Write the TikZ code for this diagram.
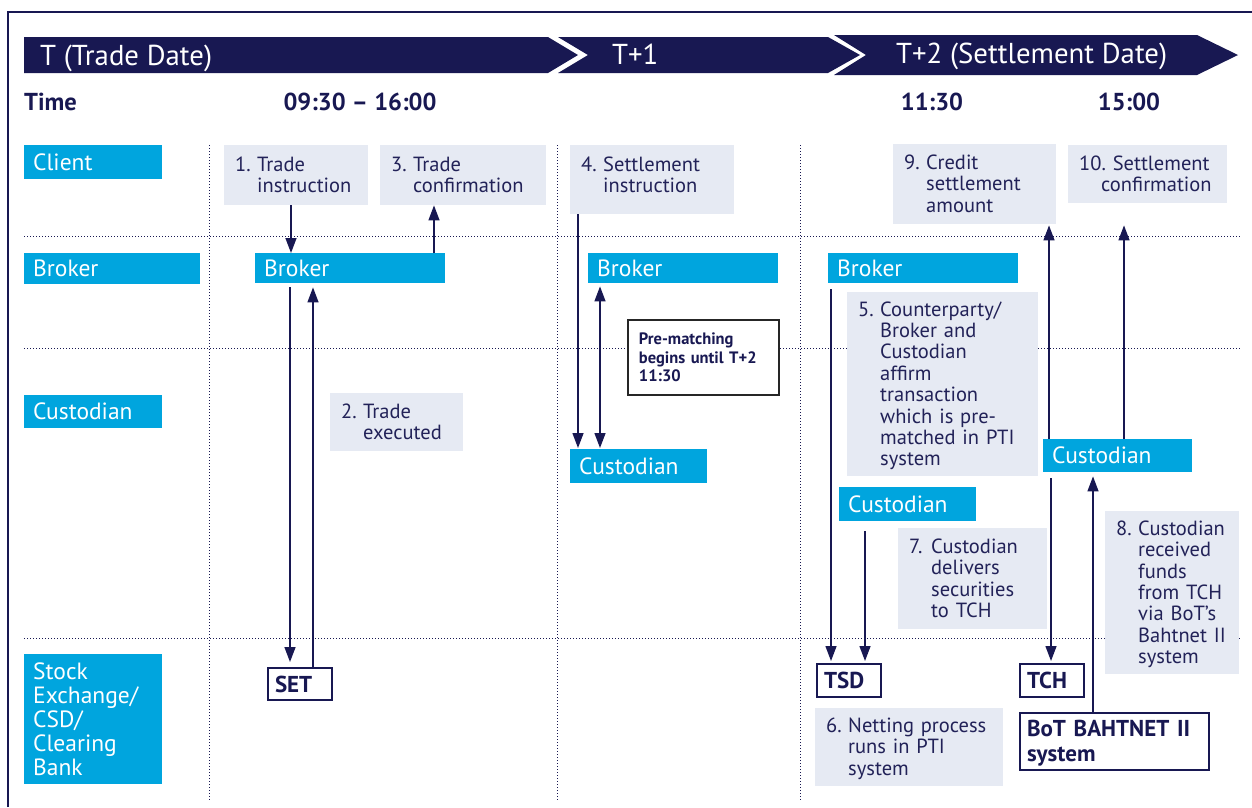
\documentclass[tikz,border=0pt]{standalone}
\usepackage{fontspec}
\setmainfont{PT Sans}
\usetikzlibrary{arrows.meta}
\definecolor{navy}{RGB}{24,24,82}
\definecolor{cyanbox}{RGB}{0,165,222}
\definecolor{stepfill}{RGB}{230,234,243}
\definecolor{txtc}{RGB}{34,34,88}
\newlength{\stind}
\setlength{\stind}{22pt}
\newcommand{\stp}[3][-2.5pt]{\raisebox{#1}[\height][\depth]{\makebox[\stind][l]{#2}\begin{tabular}[t]{@{}l@{}}#3\end{tabular}}}
\tikzset{
  lbl/.style={fill=cyanbox, text=white, anchor=north west, inner xsep=9pt, inner ysep=0pt, align=left, font=\fontsize{23.5}{23.8}\selectfont},
  stepbox/.style={fill=stepfill, text=txtc, anchor=north west, inner xsep=11pt, inner ysep=0pt, align=left, font=\fontsize{20.5}{21.4}\selectfont},
  wbox/.style={fill=white, draw=navy, line width=2pt, text=navy, anchor=north west, inner xsep=7pt, inner ysep=0pt, align=left, font=\fontsize{23}{25}\selectfont\bfseries},
  prebox/.style={fill=white, draw=black!85, line width=1.8pt, text=navy, anchor=north west, inner xsep=11pt, inner ysep=0pt, align=left, font=\fontsize{16.5}{18.5}\selectfont\bfseries},
  bann/.style={text=white, inner sep=0pt, font=\fontsize{28.8}{30}\selectfont},
  hdr/.style={text=navy, inner sep=0pt, font=\fontsize{24.5}{26}\selectfont\bfseries},
  gridline/.style={draw=navy, line width=0.9pt, dash pattern=on 0.9pt off 2.1pt},
  frameline/.style={draw=navy, line width=1.4pt},
  arr/.style={draw=navy, line width=1.4pt, -{Triangle[length=15pt,width=11pt]}},
  arrboth/.style={draw=navy, line width=1.4pt, {Triangle[length=15pt,width=11pt]}-{Triangle[length=15pt,width=11pt]}},
}
\begin{document}
\begin{tikzpicture}[x=1pt,y=-1pt]
\useasboundingbox (0,0) rectangle (1252,807);
% frame
\draw[frameline] (8,807) -- (8,12) -- (1252,12);
% grid
\foreach \yy in {236,348,638} \draw[gridline] (24,\yy) -- (1240,\yy);
\foreach \xx in {209,557,800} \draw[gridline] (\xx,145) -- (\xx,801);
% banner
\fill[navy] (24,37) -- (548,37) -- (578,55) -- (548,73) -- (24,73) -- cycle;
\fill[navy] (558,37) -- (828,37) -- (860,55) -- (828,73) -- (558,73) -- (588,55) -- cycle;
\fill[navy] (834,35) -- (1197,35) -- (1238,55) -- (1197,75) -- (834,75) -- (866,55) -- cycle;
\node[bann, anchor=base west] (tT) at (40,65) {T (Trade Date)};
\node[bann, anchor=base west] (tT1) at (612,64) {T+1};
\node[bann, anchor=base west] (tT2) at (896,63) {T+2 (Settlement Date)};
% headers
\node[hdr, anchor=base west] (hTime) at (24,110) {Time};
\node[hdr, anchor=base] (hA) at (360,110) {09:30 -- 16:00};
\node[hdr, anchor=base] (hB) at (932,110) {11:30};
\node[hdr, anchor=base] (hC) at (1129,110) {15:00};
% row labels
\node[lbl, minimum width=138pt, minimum height=34pt, text width=120pt] (lClient) at (24,145) {Client};
\node[lbl, minimum width=176pt, minimum height=31pt, text width=158pt] (lBroker) at (24,253) {Broker};
\node[lbl, minimum width=138pt, minimum height=33pt, text width=120pt] (lCust) at (24,395) {Custodian};
\node[lbl, minimum width=138pt, minimum height=130pt, text width=120pt] (lSE) at (24,654) {Stock\\Exchange/\\CSD/\\Clearing\\Bank};
% entity boxes
\node[lbl, minimum width=190pt, minimum height=30pt, text width=172pt] (brT) at (255,253) {Broker};
\node[lbl, minimum width=190pt, minimum height=30pt, text width=172pt] (brT1) at (588,253) {Broker};
\node[lbl, minimum width=190pt, minimum height=30pt, text width=172pt] (brT2) at (828,253) {Broker};
\node[lbl, minimum width=137pt, minimum height=34pt, text width=119pt] (cuT1) at (570,449) {Custodian};
\node[lbl, minimum width=137pt, minimum height=34pt, text width=119pt] (cuT2) at (839,487) {Custodian};
\node[lbl, minimum width=149pt, minimum height=33pt, text width=131pt] (cuR) at (1043,439) {Custodian};
% step boxes
\node[stepbox, minimum width=144pt, minimum height=60pt, text width=122pt] (s1) at (224,145) {\stp{1.}{Trade\\instruction}};
\node[stepbox, minimum width=166pt, minimum height=60pt, text width=144pt] (s3) at (380,145) {\stp{3.}{Trade\\confirmation}};
\node[stepbox, minimum width=164pt, minimum height=69pt, text width=142pt] (s4) at (570,145) {\stp[2pt]{4.}{Settlement\\instruction}};
\node[stepbox, minimum width=163pt, minimum height=80pt, text width=141pt] (s9) at (893,144) {\stp{9.}{Credit\\settlement\\amount}};
\node[stepbox, minimum width=159pt, minimum height=58pt, text width=137pt] (s10) at (1068,145) {\raisebox{-2.5pt}[\height][\depth]{\begin{tabular}[t]{@{}l@{}}10.\ Settlement\\\hspace*{\stind}confirmation\end{tabular}}};
\node[stepbox, minimum width=133pt, minimum height=58pt, text width=111pt] (s2) at (330,393) {\stp{2.}{Trade\\executed}};
\node[stepbox, minimum width=191pt, minimum height=184pt, text width=169pt] (s5) at (847,292) {\stp{5.}{Counterparty/\\Broker and\\Custodian\\affirm\\transaction\\which is pre-\\matched in PTI\\system}};
\node[stepbox, minimum width=149pt, minimum height=101pt, text width=127pt] (s7) at (898,528) {\stp{7.}{Custodian\\delivers\\securities\\to TCH}};
\node[stepbox, minimum width=134pt, minimum height=163pt, text width=112pt] (s8) at (1105,511) {\stp{8.}{Custodian\\received\\funds\\from TCH\\via BoT’s\\Bahtnet II\\system}};
\node[stepbox, minimum width=188pt, minimum height=78pt, text width=166pt] (s6) at (815,708) {\stp{6.}{Netting process\\runs in PTI\\system}};
% white boxes
\node[wbox, minimum width=64pt, minimum height=32pt, text width=50pt] (set) at (267,667) {SET};
\node[wbox, minimum width=64pt, minimum height=33pt, text width=50pt] (tsd) at (816,663) {TSD};
\node[wbox, minimum width=64pt, minimum height=33pt, text width=50pt] (tch) at (1019,663) {TCH};
\node[wbox, minimum width=189pt, minimum height=57pt, text width=175pt] (bot) at (1019,712) {\raisebox{-2pt}[\height][\depth]{\begin{tabular}[t]{@{}l@{}}BoT BAHTNET II\\system\end{tabular}}};
\node[prebox, minimum width=151pt, minimum height=75pt, text width=129pt] (pre) at (627,319) {Pre-matching\\begins until T+2\\11:30};
% arrow x positions
\coordinate (xa) at (291,0);
\coordinate (xb) at (434,0);
\coordinate (xc) at (290,0);
\coordinate (xd) at (313,0);
\coordinate (xe) at (578,0);
\coordinate (xf) at (600,0);
\coordinate (xg) at (831,0);
\coordinate (xh) at (865,0);
\coordinate (xi) at (1051,0);
\coordinate (xj) at (1049,0);
\coordinate (xk) at (1124,0);
\coordinate (xl) at (1093,0);
% arrows
\draw[arr] (s1.south -| xa) -- (brT.north -| xa);
\draw[arr] (brT.north -| xb) -- (s3.south -| xb);
\draw[arr, shorten <=4pt, shorten >=5pt] (brT.south -| xc) -- (set.north -| xc);
\draw[arr, shorten >=4pt] (set.north -| xd) -- (brT.south -| xd);
\draw[arr, shorten >=1pt] (s4.south -| xe) -- (cuT1.north -| xe);
\draw[arrboth, shorten <=3pt, shorten >=1pt] (brT1.south -| xf) -- (cuT1.north -| xf);
\draw[arr, shorten <=6pt, shorten >=2pt] (brT2.south -| xg) -- (tsd.north -| xg);
\draw[arr, shorten <=10pt, shorten >=2pt] (cuT2.south -| xh) -- (tsd.north -| xh);
\draw[arr, shorten <=6pt, shorten >=2pt] (cuR.south -| xi) -- (tch.north -| xi);
\draw[arr, shorten >=1pt] (cuR.north -| xj) -- (s9.south -| xj);
\draw[arr, shorten >=22pt] (cuR.north -| xk) -- (s10.south -| xk);
\draw[arr, shorten >=4pt] (bot.north -| xl) -- (cuR.south -| xl);
\end{tikzpicture}
\end{document}
